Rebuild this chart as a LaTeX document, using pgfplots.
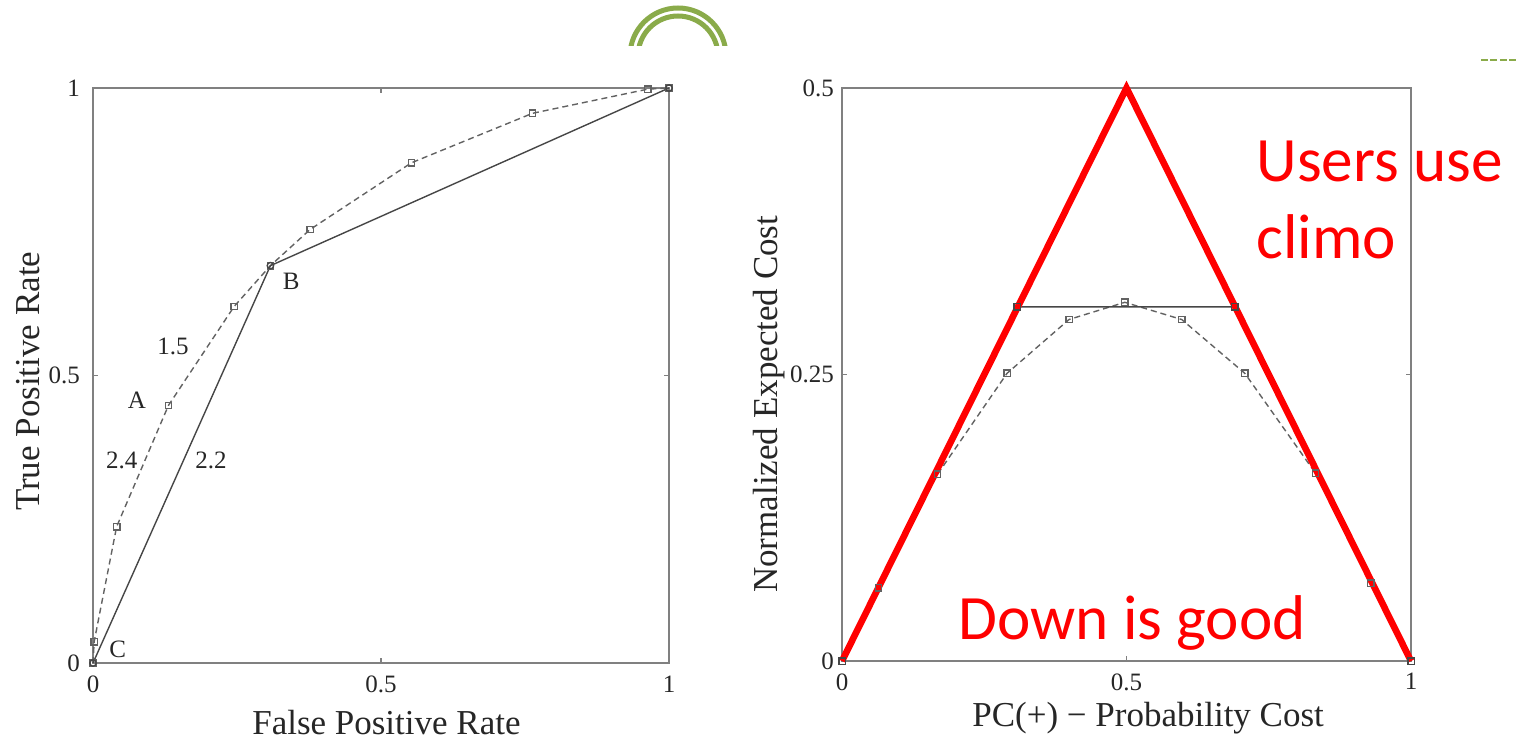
\documentclass[border=0pt]{standalone}
\usepackage{pgfplots}
\pgfplotsset{compat=1.18}
\usepackage{fontspec}
\setmainfont{Liberation Serif}
\newfontfamily\slidefont{Carlito}

\definecolor{axgray}{RGB}{128,128,128}
\definecolor{curvegray}{RGB}{70,70,70}
\definecolor{slidegreen}{RGB}{138,171,74}

\pgfplotsset{
  panel/.style={
    scale only axis,
    xmin=0, xmax=1,
    axis line style={axgray, line width=0.75pt},
    tick style={axgray, line width=0.6pt},
    tick align=inside,
    major tick length=2.5pt,
    tick label style={font=\fontsize{12.5}{14}\selectfont, text=black!85},
    label style={font=\fontsize{17.5}{20}\selectfont, text=black!85},
    /pgf/number format/assume math mode=true,
    clip=false,
  },
}
\tikzset{
  roc/.style={color=curvegray, line width=0.7pt, mark=o, mark size=1.6pt, mark options={solid}},
  rocdash/.style={color=curvegray!85, line width=0.7pt, dash pattern=on 3pt off 2pt,
                  mark=square, mark size=1.6pt, mark options={solid}},
  note/.style={font=\fontsize{12.5}{15}\selectfont, text=black!85},
  redtext/.style={font=\slidefont\fontsize{31.6}{38.5}\selectfont, text=red, anchor=base west, inner sep=0pt},
}

\begin{document}
\begin{tikzpicture}
\path[use as bounding box] (0,0) rectangle (758.5pt,-369.5pt);

% slide decorations
\begin{scope}
  \clip (300pt,0pt) rectangle (380pt,-22.5pt);
  \draw[slidegreen, line width=2.5pt] (363pt,-28pt) arc[start angle=0, end angle=180, radius=24pt];
  \draw[slidegreen, line width=2.5pt] (359pt,-28pt) arc[start angle=0, end angle=180, radius=20pt];
\end{scope}
\draw[slidegreen, line width=1pt, dash pattern=on 3.5pt off 1.2pt] (740.5pt,-30pt) -- (758.5pt,-30pt);

% ROC space
\begin{axis}[panel,
  width=288pt, height=287.5pt,
  at={(46.5pt,-331.5pt)}, anchor=south west,
  ymin=0, ymax=1,
  xtick={0,0.5,1}, ytick={0,0.5,1},
  xticklabels={0,0.5,1}, yticklabels={0,0.5,1},
  xticklabel style={yshift=-3pt},
  yticklabel style={xshift=-3pt},
  xlabel={False Positive Rate}, ylabel={True Positive Rate},
  xlabel style={at={(axis description cs:0.5095,-0.1235)}, anchor=base, inner sep=0pt},
  ylabel style={at={(axis description cs:-0.112,0.49)}, anchor=center, rotate=0},
]
\addplot[rocdash] coordinates {
  (0,0) (0.002,0.037) (0.041,0.237) (0.131,0.448) (0.245,0.620)
  (0.308,0.691) (0.377,0.754) (0.553,0.870) (0.763,0.956) (0.963,0.998) (1,1)
};
\addplot[roc] coordinates {(0,0) (0.308,0.691) (1,1)};
\node[note] at (axis cs:0.344,0.663) {B};
\node[note] at (axis cs:0.139,0.550) {1.5};
\node[note] at (axis cs:0.076,0.457) {A};
\node[note] at (axis cs:0.050,0.353) {2.4};
\node[note] at (axis cs:0.205,0.353) {2.2};
\node[note] at (axis cs:0.043,0.023) {C};
\end{axis}

% cost space
\begin{axis}[panel,
  width=284.5pt, height=286.5pt,
  at={(421pt,-330.5pt)}, anchor=south west,
  ymin=0, ymax=0.5,
  xtick={0,0.5,1}, ytick={0,0.25,0.5},
  xticklabels={0,0.5,1}, yticklabels={0,0.25,0.5},
  xticklabel style={yshift=-5pt, inner sep=1pt},
  yticklabel style={xshift=-0.5pt},
  xlabel={PC(+) − Probability Cost}, ylabel={Normalized Expected Cost},
  xlabel style={at={(axis description cs:0.538,-0.115)}, anchor=base, inner sep=0pt},
  ylabel style={at={(axis description cs:-0.128,0.448)}, anchor=center, rotate=0},
]
\addplot[rocdash] coordinates {
  (0,0) (0.064,0.064) (0.168,0.163) (0.290,0.251) (0.399,0.298) (0.497,0.313)
  (0.597,0.298) (0.708,0.251) (0.832,0.164) (0.929,0.068) (1,0)
};
\addplot[color=curvegray, line width=0.7pt, mark=square, mark size=1.6pt]
  coordinates {(0,0) (0.308,0.309) (0.690,0.309) (1,0)};
\addplot[color=red, line width=3.3pt, line join=miter] coordinates {(0,0) (0.5,0.5) (1,0)};
\node[redtext] at (axis cs:0.728,0.418) {Users use};
\node[redtext] at (axis cs:0.728,0.351) {climo};
\node[redtext] at (axis cs:0.204,0.019) {Down is good};
\end{axis}
\end{tikzpicture}
\end{document}
